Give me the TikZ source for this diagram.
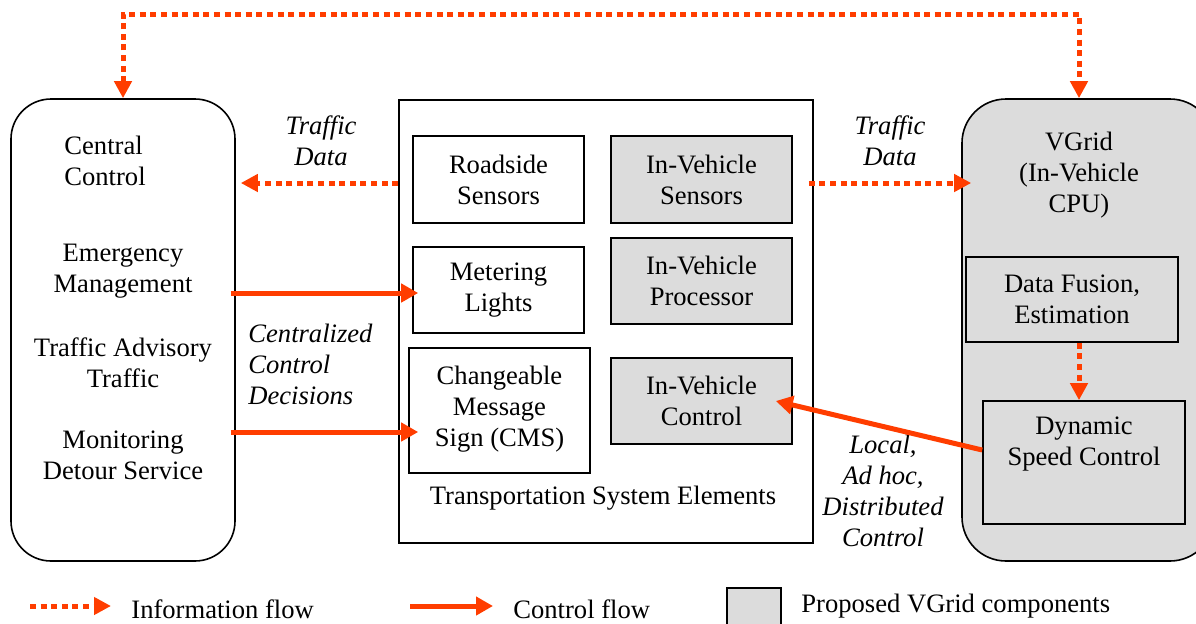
\documentclass[tikz,border=0pt]{standalone}
\usepackage{fontspec}
\setmainfont{Liberation Serif}
\usetikzlibrary{arrows.meta,calc}
\definecolor{flow}{RGB}{255,61,0}
\definecolor{vgray}{RGB}{220,220,220}
\tikzset{
  txt/.style={font=\fontsize{13.3}{15.5}\selectfont, inner sep=0pt, align=center},
  itxt/.style={txt, font=\fontsize{13.3}{15.5}\selectfont\itshape},
  wbox/.style={draw=black, line width=0.8pt, fill=white, inner sep=0pt, rectangle},
  gbox/.style={wbox, fill=vgray},
  info/.style={draw=flow, line width=2.5pt, dash pattern=on 3pt off 2.3pt, -{Triangle[length=8.5pt,width=8.5pt]}},
  ctrl/.style={draw=flow, line width=2.5pt, -{Triangle[length=8.5pt,width=9pt]}},
}
\begin{document}
\begin{tikzpicture}[x=0.5pt,y=-0.5pt]
\useasboundingbox (0,0) rectangle (1196,623);
\begin{scope}
\clip (0,0) rectangle (1196,623);
% big containers
\node[wbox, rounded corners=20pt, minimum width=112pt, minimum height=231pt] (cc) at (123,330) {};
\node[gbox, rounded corners=22pt, minimum width=126pt, minimum height=231pt] (vg) at (1088,330) {};
\node[wbox, minimum width=207pt, minimum height=221.5pt] (mid) at (606,321.5) {};
% inner boxes
\node[wbox, line width=1.4pt, minimum width=85.5pt, minimum height=43.5pt] (rs) at (498.5,179.5) {};
\node[txt] at (rs) {Roadside\\Sensors};
\node[gbox, minimum width=90.5pt, minimum height=43.5pt] (ivs) at (701.5,179.5) {};
\node[txt] at (ivs) {In-Vehicle\\Sensors};
\node[wbox, minimum width=85.5pt, minimum height=43pt] (ml) at (498.5,290) {};
\node[txt] at (ml) {Metering\\Lights};
\node[gbox, minimum width=90.5pt, minimum height=43pt] (ivp) at (701.5,281) {};
\node[txt] at (ivp) {In-Vehicle\\Processor};
\node[wbox, minimum width=90.5pt, minimum height=62.5pt] (cms) at (499.5,410.5) {};
\node[txt] at ([yshift=0.5pt]cms.center) {Changeable\\Message\\Sign (CMS)};
\node[gbox, minimum width=90.5pt, minimum height=43pt] (ivc) at (701.5,401) {};
\node[txt] at (ivc) {In-Vehicle\\Control};
\node[txt] (tse) at (603,498) {Transportation System Elements};
% VGrid internals
\node[txt] (vgt) at (1079,175) {VGrid\\(In-Vehicle\\CPU)};
\node[gbox, minimum width=106pt, minimum height=42.5pt] (df) at (1072,299.5) {};
\node[txt] at (df) {Data Fusion,\\Estimation};
\node[gbox, minimum width=101pt, minimum height=61.5pt] (dsc) at (1084,462.5) {};
\node[txt] at (1084,444) {Dynamic\\Speed Control};
% central control texts
\node[txt, anchor=west, align=left] (cct) at (64,161) {Central\\Control};
\node[txt] (em) at (123,271) {Emergency\\Management};
\node[txt] (ta) at (123,363) {Traffic Advisory\\Traffic};
\node[txt] (md) at (123,455) {Monitoring\\Detour Service};
% labels
\node[itxt] (tdl) at (321,141) {Traffic\\Data};
\node[itxt] (tdr) at (890,141) {Traffic\\Data};
\node[itxt, anchor=west, align=left] (ccd) at (248,364) {Centralized\\Control\\Decisions};
\node[itxt] (loc) at (883,491) {Local,\\Ad hoc,\\Distributed\\Control};
% connectors
\draw[info, {Triangle[length=8.5pt,width=8.5pt]}-{Triangle[length=8.5pt,width=8.5pt]}]
  (cc.north) -- ([yshift=42pt]cc.north) -| (vg.north -| vgt);
\draw[info] ([yshift=-1.75pt]mid.west |- rs) -- ([xshift=2.5pt,yshift=-1.75pt]cc.east |- rs);
\draw[info] ([xshift=-2.5pt,yshift=-1.75pt]mid.east |- rs) -- ([xshift=5pt,yshift=-1.75pt]vg.west |- rs);
\draw[info] (df.south -| vgt) -- (dsc.north -| vgt);
\draw[ctrl] ([xshift=-2.5pt,yshift=-1.5pt]cc.east |- ml) -- ([xshift=3pt,yshift=-1.5pt]ml.west);
\draw[ctrl] ([xshift=-2.5pt,yshift=-10.75pt]cc.east |- cms) -- ([xshift=5pt,yshift=-10.75pt]cms.west);
\draw[ctrl] ([yshift=6.25pt]dsc.west) -- ([xshift=-8.5pt]ivc.east);
% legend
\coordinate (l1a) at (30,606);
\coordinate (l1b) at (111,606);
\draw[info] (l1a) -- (l1b);
\node[txt, anchor=west] (l1t) at (131,609) {Information flow};
\coordinate (l2a) at (410,606);
\coordinate (l2b) at (493,606);
\draw[ctrl] (l2a) -- (l2b);
\node[txt, anchor=west] (l2t) at (513,609) {Control flow};
\node[gbox, minimum width=27pt, minimum height=26pt] (l3) at (754,614) {};
\node[txt, anchor=west] (l3t) at (801,606) {Proposed VGrid components};
\end{scope}
\end{tikzpicture}
\end{document}
